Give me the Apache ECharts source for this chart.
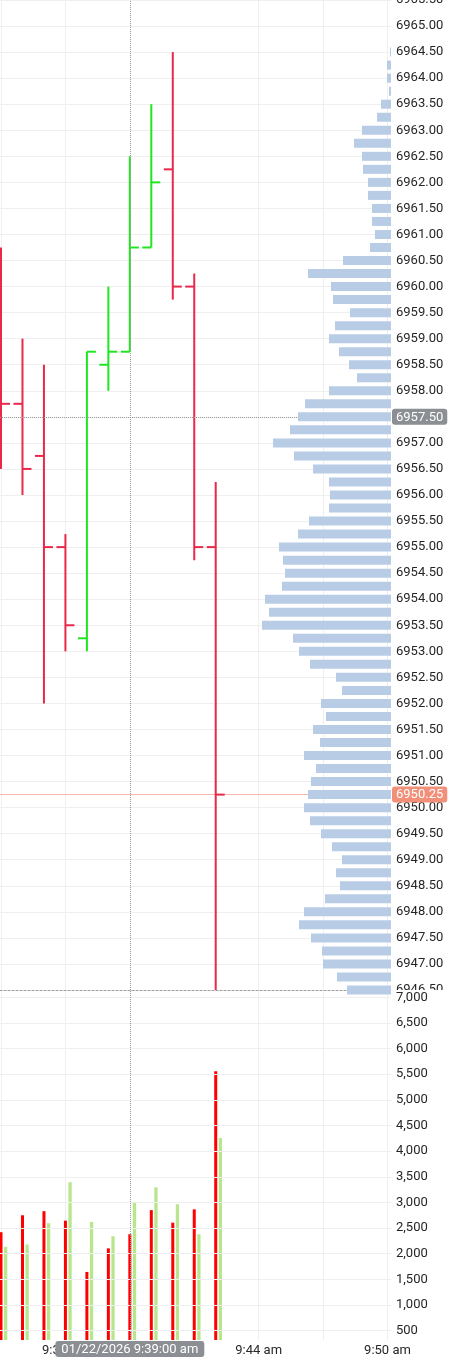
<!DOCTYPE html>
<html><head><meta charset="utf-8">
<script src="https://cdn.jsdelivr.net/npm/echarts@6/dist/echarts.min.js"></script>
<style>html,body{margin:0;padding:0;background:#fff;overflow:hidden}#c{width:450px;height:1358px}</style>
</head><body><div id="c"></div>
<script>
// ---- data ----
const times  = ['9:32','9:33','9:34','9:35','9:36','9:37','9:38','9:39','9:40','9:41','9:42'];
const opens  = [6960.25,6957.75,6956.75,6955.00,6953.25,6958.50,6958.75,6960.75,6962.25,6960.00,6955.00];
const highs  = [6960.75,6959.00,6958.50,6955.25,6958.75,6960.00,6962.50,6963.50,6964.50,6960.25,6956.25];
const lows   = [6956.50,6956.00,6952.00,6953.00,6953.00,6958.00,6958.75,6960.75,6959.75,6954.75,6946.50];
const closes = [6957.75,6956.50,6955.00,6953.50,6958.75,6958.75,6960.75,6962.00,6960.00,6955.00,6950.25];
const sellVolume = [2420,2750,2830,2645,1645,2105,2380,2850,2605,2865,5560];
const buyVolume  = [2135,2180,2595,3395,2620,2340,3005,3295,2965,2380,4255];

const profilePrices = ['6946.50','6946.75','6947.00','6947.25','6947.50','6947.75','6948.00','6948.25','6948.50','6948.75',
'6949.00','6949.25','6949.50','6949.75','6950.00','6950.25','6950.50','6950.75','6951.00','6951.25',
'6951.50','6951.75','6952.00','6952.25','6952.50','6952.75','6953.00','6953.25','6953.50','6953.75',
'6954.00','6954.25','6954.50','6954.75','6955.00','6955.25','6955.50','6955.75','6956.00','6956.25',
'6956.50','6956.75','6957.00','6957.25','6957.50','6957.75','6958.00','6958.25','6958.50','6958.75',
'6959.00','6959.25','6959.50','6959.75','6960.00','6960.25','6960.50','6960.75','6961.00','6961.25',
'6961.50','6961.75','6962.00','6962.25','6962.50','6962.75','6963.00','6963.25','6963.50','6963.75',
'6964.00','6964.25','6964.50','6964.75','6965.00','6965.25','6965.50'];
const profileVolume = [440,540,680,690,800,920,870,660,510,550,
490,590,700,810,870,830,800,750,870,710,
780,650,700,490,550,810,920,980,1290,1220,
1260,1090,1060,1080,1120,930,820,620,610,620,
780,970,1180,1010,930,860,620,340,420,520,
620,560,410,580,600,830,480,210,160,190,
190,230,230,280,290,370,290,140,100,20,
40,40,10,0,0,0,0];

const volumeTickLabels = [500,1000,1500,2000,2500,3000,3500,4000,4500,5000,5500,6000,6500,7000];
const timeTickLabels = ['9:35','9:44','9:50'];
const timeGridLines  = ['9:32','9:35','9:44','9:47','9:50'];
const lastPrice = 6950.25;
const crosshairTime = '9:38';
const crosshairTimeLabel = '01/22/2026 9:39:00 am';
const crosshairPrice = 6957.50;

// ---- helpers ----
const toMin = s => { const [h, m] = s.split(':').map(Number); return h * 60 + m; };
const fmtTime = v => { const h = Math.floor(v / 60), m = Math.round(v - h * 60); return h + ':' + String(m).padStart(2, '0') + ' am'; };
const tMin = 571.953, tMax = 590.164;
const volMin = 318, volMax = 7142;
const RED = '#e8294b', GREEN = '#1fe61f';
const FONT = 'Roboto';
const labelColor = '#262626';

const ohlcData = times.map((t, i) => [toMin(t), opens[i], highs[i], lows[i], closes[i]]);
const sellData = times.map((t, i) => [toMin(t), sellVolume[i]]);
const buyData  = times.map((t, i) => [toMin(t), buyVolume[i]]);

function ohlcItem(params, api) {
  const t = api.value(0), o = api.value(1), h = api.value(2), l = api.value(3), c = api.value(4);
  const po = api.coord([t, o]), ph = api.coord([t, h]), pl = api.coord([t, l]), pc = api.coord([t, c]);
  const col = c >= o ? GREEN : RED;
  const st = { stroke: col, lineWidth: 2 };
  return { type: 'group', children: [
    { type: 'line', shape: { x1: ph[0], y1: ph[1], x2: pl[0], y2: pl[1] }, style: st },
    { type: 'line', shape: { x1: po[0] - 9, y1: po[1], x2: po[0], y2: po[1] }, style: st },
    { type: 'line', shape: { x1: pc[0], y1: pc[1], x2: pc[0] + 9, y2: pc[1] }, style: st }
  ]};
}
function volItem(offset, width, color) {
  return function (params, api) {
    const top = api.coord([api.value(0), api.value(1)]);
    const base = api.coord([api.value(0), volMin]);
    return { type: 'rect', shape: { x: top[0] + offset, y: top[1], width: width, height: base[1] - top[1] }, style: { fill: color } };
  };
}

const gridLineStyle = { color: '#efefef', width: 1 };
const chart = echarts.init(document.getElementById('c'), null, { renderer: 'canvas' });
chart.setOption({
  animation: false,
  backgroundColor: '#ffffff',
  textStyle: { fontFamily: FONT },
  grid: [
    { left: 0, right: 59, top: 0, height: 990, outerBoundsMode: 'none', containLabel: false },
    { left: 0, right: 59, top: 0, height: 990, outerBoundsMode: 'none', containLabel: false },
    { left: 0, right: 59, top: 990, height: 350, outerBoundsMode: 'none', containLabel: false }
  ],
  graphic: [
    { type: 'rect', left: 392, top: 990, z: 3, shape: { width: 58, height: 20 }, style: { fill: '#ffffff' }, silent: true }
  ],
  xAxis: [
    { type: 'value', gridIndex: 0, min: tMin, max: tMax,
      axisLine: { show: true, lineStyle: { color: '#a0a0a0', type: [2, 2], width: 1 } },
      axisTick: { show: false, customValues: timeGridLines.map(toMin) },
      axisLabel: { show: false },
      splitLine: { show: true, lineStyle: gridLineStyle },
      axisPointer: { show: true, status: 'show', value: toMin(crosshairTime), type: 'line', triggerTooltip: false,
        lineStyle: { color: '#999', type: 'dotted', width: 1 }, label: { show: false } } },
    { type: 'value', gridIndex: 2, min: tMin, max: tMax,
      axisLine: { show: false },
      axisTick: { show: false, customValues: timeGridLines.map(toMin) },
      axisLabel: { show: true, customValues: timeTickLabels.map(toMin), formatter: v => fmtTime(v),
        color: labelColor, fontSize: 13, fontFamily: FONT, margin: 4 },
      splitLine: { show: true, lineStyle: gridLineStyle },
      axisPointer: { show: true, status: 'show', value: toMin(crosshairTime), type: 'line', triggerTooltip: false,
        lineStyle: { color: '#999', type: 'dotted', width: 1 },
        label: { show: true, formatter: () => crosshairTimeLabel, backgroundColor: '#8b8e93', color: '#fff',
          fontSize: 13, fontFamily: FONT, padding: [2, 6, 1, 6], borderRadius: 3, margin: 1 } } },
    { type: 'value', gridIndex: 1, min: 0, max: 3910, inverse: true, show: false,
      splitLine: { show: false } }
  ],
  yAxis: [
    { type: 'value', gridIndex: 0, position: 'right', min: 6946.5, max: 6965.5, interval: 0.5,
      axisLine: { show: false }, axisTick: { show: false },
      axisLabel: { formatter: v => v.toFixed(2), color: labelColor, fontSize: 13, fontFamily: FONT, margin: 5 },
      splitLine: { show: true, lineStyle: gridLineStyle },
      axisPointer: { show: true, status: 'show', value: crosshairPrice, type: 'line', triggerTooltip: false,
        lineStyle: { color: '#999', type: 'dotted', width: 1 },
        label: { show: true, formatter: p => Number(p.value).toFixed(2), backgroundColor: '#8b8e93', color: '#fff',
          fontSize: 13, fontFamily: FONT, padding: [2, 4, 1, 4], borderRadius: 3, margin: 1 } } },
    { type: 'value', gridIndex: 2, position: 'right', min: volMin, max: volMax, z: 10,
      axisLine: { show: false },
      axisTick: { show: false, customValues: volumeTickLabels },
      axisLabel: { customValues: volumeTickLabels, formatter: v => v.toLocaleString('en-US'),
        color: labelColor, fontSize: 13, fontFamily: FONT, margin: 5 },
      splitLine: { show: true, lineStyle: gridLineStyle } },
    { type: 'category', gridIndex: 1, data: profilePrices, boundaryGap: false, show: false }
  ],
  series: [
    { type: 'custom', name: 'OHLC', xAxisIndex: 0, yAxisIndex: 0, data: ohlcData, renderItem: ohlcItem, clip: true, z: 5,
      encode: { x: 0, y: [1, 2, 3, 4] },
      markLine: { silent: true, symbol: 'none', animation: false,
        lineStyle: { color: '#f7b9aa', type: 'solid', width: 1 },
        label: { show: true, position: 'end', distance: 1, formatter: () => lastPrice.toFixed(2),
          backgroundColor: '#f28f78', color: '#fff', fontSize: 13, fontFamily: FONT, padding: [2, 4, 1, 4], borderRadius: 3 },
        data: [{ yAxis: lastPrice }] } },
    { type: 'bar', name: 'Profile', xAxisIndex: 2, yAxisIndex: 2, data: profileVolume, barWidth: 9, clip: true,
      itemStyle: { color: '#b9cce6' }, z: 60, silent: true },
    { type: 'custom', name: 'Sell', xAxisIndex: 1, yAxisIndex: 1, data: sellData, renderItem: volItem(-1.5, 3, '#ff0000'), encode: { x: 0, y: 1 } },
    { type: 'custom', name: 'Buy', xAxisIndex: 1, yAxisIndex: 1, data: buyData, renderItem: volItem(3, 3.3, '#b8e68c'), encode: { x: 0, y: 1 } }
  ]
});
</script></body></html>
